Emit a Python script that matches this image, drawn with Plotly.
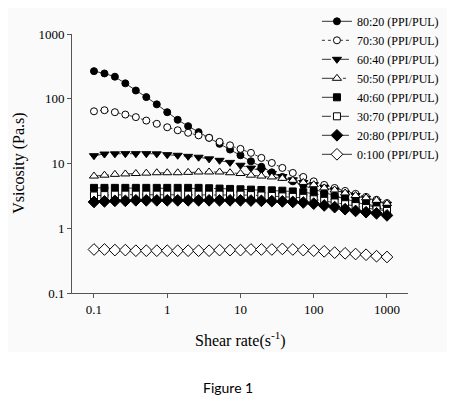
import plotly.graph_objects as go

# ---------------- data ----------------
shear_rate = [0.1, 0.139, 0.193, 0.268, 0.373, 0.518, 0.72, 1.0, 1.39, 1.93,
              2.68, 3.73, 5.18, 7.2, 10.0, 13.9, 19.3, 26.8, 37.3, 51.8,
              72.0, 100.0, 139, 193, 268, 373, 518, 720, 1000]

v_80_20 = [267, 246, 219, 173, 134, 106, 82, 62, 47.3, 37.7,
           30.5, 25, 20.1, 16.4, 13.4, 10.8, 8.9, 7.3, 6.2, 5.3,
           4.6, 4.0, 3.55, 3.15, 2.85, 2.55, 2.3, 2.1, 1.9]
v_70_30 = [64, 66.5, 62, 57, 52, 46, 41, 36.3, 32.6, 29.8,
           27.2, 24.9, 21.6, 19.1, 16.8, 14.6, 12.2, 10.2, 8.55, 7.15,
           6.2, 5.3, 4.67, 4.19, 3.77, 3.4, 3.05, 2.75, 2.45]
v_60_40 = [13.2, 14.0, 14.1, 14.2, 14.2, 14.2, 14.1, 13.7, 13.4, 12.9,
           12.5, 11.8, 11.2, 10.4, 9.4, 8.5, 7.9, 7.0, 6.3, 5.6,
           5.1, 4.7, 4.3, 3.9, 3.5, 3.2, 2.9, 2.6, 2.35]
v_50_50 = [6.4, 6.6, 6.8, 6.9, 7.0, 7.1, 7.2, 7.2, 7.2, 7.3,
           7.4, 7.4, 7.4, 7.2, 7.0, 6.6, 6.4, 6.2, 5.9, 5.5,
           5.1, 4.7, 4.2, 3.9, 3.5, 3.2, 2.95, 2.7, 2.4]
v_40_60 = [4.2, 4.2, 4.2, 4.2, 4.2, 4.2, 4.2, 4.2, 4.2, 4.2,
           4.2, 4.15, 4.1, 4.05, 4.0, 3.95, 3.9, 3.85, 3.8, 3.7,
           3.6, 3.45, 3.3, 3.1, 2.85, 2.6, 2.4, 2.2, 2.0]
v_30_70 = [3.2, 3.25, 3.3, 3.3, 3.3, 3.3, 3.3, 3.3, 3.3, 3.3,
           3.3, 3.3, 3.3, 3.3, 3.3, 3.25, 3.2, 3.15, 3.1, 3.05,
           2.95, 2.8, 2.65, 2.5, 2.35, 2.2, 2.05, 1.95, 1.85]
v_20_80 = [2.55, 2.6, 2.65, 2.65, 2.7, 2.7, 2.7, 2.7, 2.7, 2.7,
           2.7, 2.7, 2.7, 2.7, 2.7, 2.68, 2.65, 2.62, 2.6, 2.55,
           2.5, 2.4, 2.25, 2.12, 1.97, 1.85, 1.77, 1.7, 1.58]
v_0_100 = [0.47, 0.47, 0.46, 0.46, 0.45, 0.45, 0.45, 0.45, 0.45, 0.45,
           0.45, 0.45, 0.46, 0.46, 0.46, 0.47, 0.47, 0.47, 0.48, 0.47,
           0.46, 0.45, 0.44, 0.42, 0.41, 0.40, 0.39, 0.37, 0.36]

series_names = ["80:20 (PPI/PUL)", "70:30 (PPI/PUL)", "60:40 (PPI/PUL)", "50:50 (PPI/PUL)",
                "40:60 (PPI/PUL)", "30:70 (PPI/PUL)", "20:80 (PPI/PUL)", "0:100 (PPI/PUL)"]
series_values = [v_80_20, v_70_30, v_60_40, v_50_50, v_40_60, v_30_70, v_20_80, v_0_100]

x_tick_vals = [0.1, 1, 10, 100, 1000]
x_tick_text = ["0.1", "1", "10", "100", "1000"]
y_tick_vals = [0.1, 1, 10, 100, 1000]
y_tick_text = ["0.1", "1", "10", "100", "1000"]

# ---------------- styles ----------------
styles = [
    dict(symbol="circle", fill="black", dash="solid", size=7),
    dict(symbol="circle", fill="white", dash="dot", size=7),
    dict(symbol="triangle-down", fill="black", dash="dash", size=8),
    dict(symbol="triangle-up", fill="white", dash="longdashdot", size=8),
    dict(symbol="square", fill="black", dash="longdash", size=7),
    dict(symbol="square", fill="white", dash="dashdot", size=7),
    dict(symbol="diamond", fill="black", dash="dash", size=9),
    dict(symbol="diamond", fill="white", dash="solid", size=9),
]

FONT = "Liberation Serif"

fig = go.Figure()
for name, vals, st in zip(series_names, series_values, styles):
    fig.add_trace(go.Scatter(
        x=shear_rate, y=vals, name=name, mode="lines+markers",
        line=dict(color="#333333", width=1, dash=st["dash"]),
        marker=dict(symbol=st["symbol"], size=st["size"], color=st["fill"],
                    line=dict(color="black", width=1)),
    ))

fig.update_layout(
    width=452, height=389,
    margin=dict(l=64, r=52, t=26, b=104, autoexpand=False),
    paper_bgcolor="white", plot_bgcolor="rgba(0,0,0,0)",
    font=dict(family=FONT, size=13, color="black"),
    showlegend=True,
    legend=dict(x=0.729, y=1.105, xanchor="left", yanchor="top",
                bgcolor="rgba(0,0,0,0)", font=dict(family=FONT, size=12),
                itemclick=False, tracegroupgap=0),
    shapes=[dict(type="rect", xref="paper", yref="paper", x0=-0.214, x1=1.116,
                 y0=-0.228, y1=1.131, fillcolor="#fafafa", line=dict(width=0),
                 layer="below")],
    annotations=[
        dict(text="Shear rate(s<sup>-1</sup>)", xref="paper", yref="paper",
             x=0.5, y=-0.18, xanchor="center", yanchor="middle", showarrow=False,
             font=dict(family=FONT, size=16)),
        dict(text="Vsicosity (Pa.s)", xref="paper", yref="paper",
             x=-0.16, y=0.5, xanchor="center", yanchor="middle", showarrow=False,
             textangle=-90, font=dict(family=FONT, size=16)),
        dict(text="Figure 1", xref="paper", yref="paper",
             x=0.464, y=-0.363, xanchor="center", yanchor="middle", showarrow=False,
             font=dict(family="Lato", size=14)),
    ],
)

fig.update_xaxes(type="log", range=[-1.30, 3.287], tickvals=x_tick_vals, ticktext=x_tick_text,
                 showline=True, linecolor="#555555", linewidth=1, ticks="outside",
                 ticklen=4, tickcolor="#555555", showgrid=False, zeroline=False,
                 tickfont=dict(family=FONT, size=13))
fig.update_yaxes(type="log", range=[-1, 3], tickvals=y_tick_vals, ticktext=y_tick_text,
                 showline=True, linecolor="#555555", linewidth=1, ticks="outside",
                 ticklen=4, tickcolor="#555555", showgrid=False, zeroline=False,
                 tickfont=dict(family=FONT, size=13))

fig.write_html("out.html")
